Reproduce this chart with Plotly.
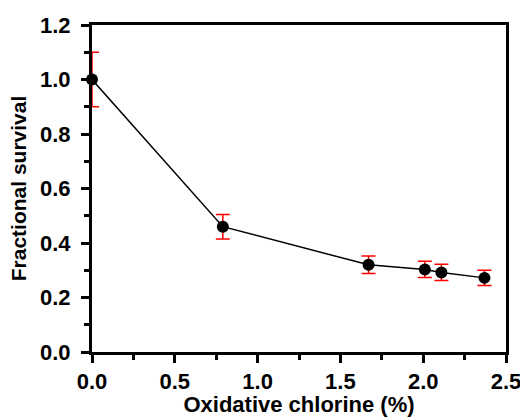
import plotly.graph_objects as go

chlorine = [0.0, 0.79, 1.67, 2.01, 2.11, 2.37]
survival = [1.0, 0.46, 0.32, 0.303, 0.292, 0.272]
errors = [0.1, 0.045, 0.032, 0.03, 0.03, 0.028]

fig = go.Figure()
fig.add_trace(go.Scatter(
    x=chlorine, y=survival, mode="lines+markers",
    line=dict(color="black", width=1.5),
    marker=dict(color="black", size=12, symbol="circle"),
    error_y=dict(type="data", array=errors, visible=True, color="red", thickness=1.5, width=7),
    cliponaxis=False, showlegend=False,
))

font_bold = "Liberation Sans"
fig.update_layout(
    width=520, height=417,
    margin=dict(l=92, r=14, t=25, b=65),
    paper_bgcolor="white", plot_bgcolor="white",
    font=dict(family=font_bold, size=22, color="black"),
)
axis_common = dict(
    showline=True, linewidth=3, linecolor="black", mirror=True,
    ticks="outside", ticklen=8, tickwidth=3, tickcolor="black",
    showgrid=False, zeroline=False, ticklabeloverflow="allow", automargin=False,
    tickfont=dict(family=font_bold, size=22, color="black", weight="bold"),
)
fig.update_xaxes(
    range=[0, 2.5], dtick=0.5, tick0=0, tickformat=".1f",
    minor=dict(ticks="outside", ticklen=5, tickwidth=3, dtick=0.25, tickcolor="black", showgrid=False),
    title=dict(text="Oxidative chlorine (%)", font=dict(family=font_bold, size=22, weight="bold"), standoff=6),
    **axis_common,
)
fig.update_yaxes(
    range=[0, 1.2], dtick=0.2, tick0=0, tickformat=".1f", ticklabelstandoff=6,
    minor=dict(ticks="outside", ticklen=5, tickwidth=3, dtick=0.1, tickcolor="black", showgrid=False),
    title=dict(text="Fractional survival", font=dict(family=font_bold, size=21, weight="bold"), standoff=8),
    **axis_common,
)

fig.write_html(
    "out.html",
    config={"displayModeBar": False},
    post_script="document.body.style.margin='0';document.body.style.overflow='hidden';",
)
